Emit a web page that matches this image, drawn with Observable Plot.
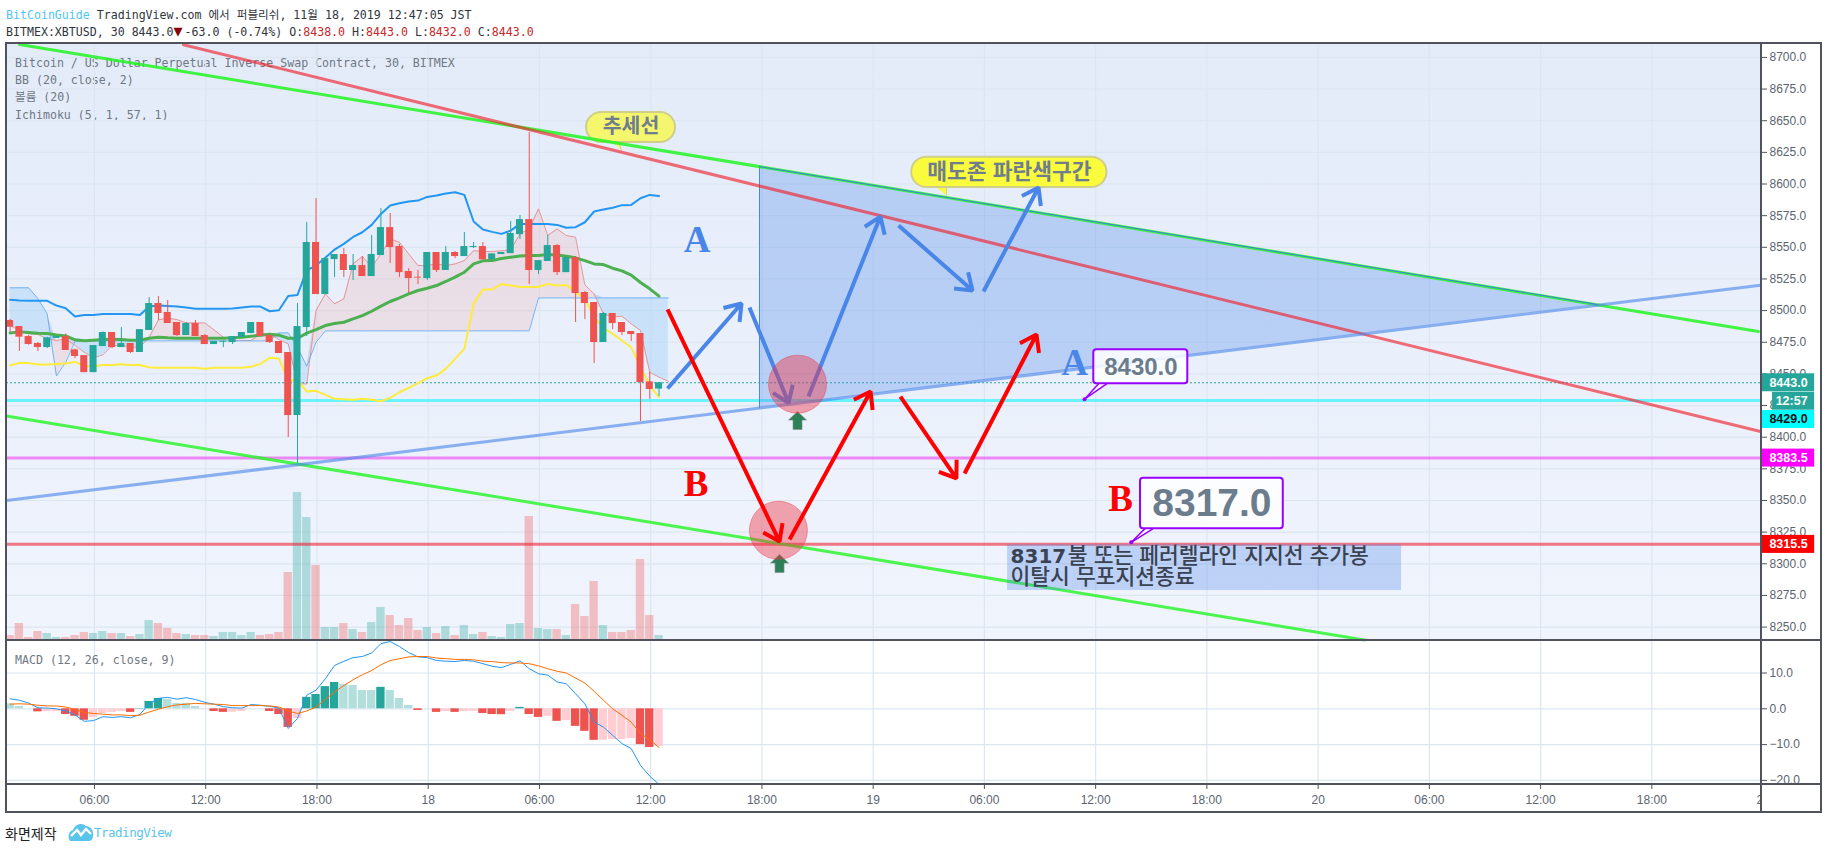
<!DOCTYPE html>
<html lang="ko">
<head>
<meta charset="utf-8">
<script src="https://cdn.jsdelivr.net/npm/d3@7"></script>
<script src="https://cdn.jsdelivr.net/npm/@observablehq/plot@0.6"></script>
<style>
  html,body{margin:0;padding:0;background:#fff;}
  #page{position:relative;width:1828px;height:849px;overflow:hidden;background:#fff;}
  .abs{position:absolute;}
  .mono{font-family:"DejaVu Sans Mono","Noto Sans CJK KR",monospace;font-size:11.6px;white-space:pre;line-height:16px;}
  .line{position:absolute;background:#50535e;}
  svg{display:block;}
</style>
</head>
<body>
<div id="page">
  <div class="abs" style="left:6px;top:43px;width:1755px;height:597px;background:linear-gradient(#e3ebf9,#f0f4fd);"></div>
  <div class="abs mono" style="left:6px;top:7px;color:#30353d;"><span style="color:#4fc3f7">BitCoinGuide</span> TradingView.com 에서 퍼블리쉬, 11월 18, 2019 12:47:05 JST</div>
  <div class="abs mono" style="left:6px;top:24px;color:#30353d;">BITMEX:XBTUSD, 30 8443.0<span style="color:#8b0000;display:inline-block;width:9px;text-align:center;font-size:15px;line-height:10px;margin:0 2px 0 0;">▼</span>-63.0 (-0.74%) O:<span style="color:#c62828">8438.0</span> H:<span style="color:#c62828">8443.0</span> L:<span style="color:#c62828">8432.0</span> C:<span style="color:#c62828">8443.0</span></div>
  <div class="abs mono" style="left:15px;top:55px;color:#6f7883;line-height:17.2px;">Bitcoin / US Dollar Perpetual Inverse Swap Contract, 30, BITMEX
BB (20, close, 2)
볼륨 (20)
Ichimoku (5, 1, 57, 1)</div>
  <div class="abs" id="main" style="left:0;top:43px;"></div>
  <div class="abs" id="macd" style="left:0;top:640px;"></div>
  <div class="abs mono" style="left:15px;top:652px;color:#6f7883;">MACD (12, 26, close, 9)</div>
  <div class="abs" style="left:1762px;top:785px;width:60px;height:27px;background:#fff;"></div>
  <div class="line" style="left:5px;top:42px;width:1817px;height:2px;"></div>
  <div class="line" style="left:5px;top:811px;width:1817px;height:2px;"></div>
  <div class="line" style="left:5px;top:42px;width:2px;height:771px;"></div>
  <div class="line" style="left:1820px;top:42px;width:2px;height:771px;"></div>
  <div class="line" style="left:1760px;top:42px;width:2px;height:771px;"></div>
  <div class="line" style="left:5px;top:639px;width:1817px;height:2px;"></div>
  <div class="line" style="left:5px;top:783px;width:1817px;height:2px;"></div>
  <div class="abs" style="left:5px;top:823px;font:14px 'Noto Sans CJK KR',sans-serif;color:#222;">화면제작</div>
  <svg class="abs" style="left:68px;top:822px;" width="26" height="20" viewBox="0 0 26 20">
    <path d="M2 19 C-1 14 1 9 5 8 C7 2 14 0 18 4 C23 4 26 9 25 14 C25 17 23 19 21 19 Z" fill="#5bc4ea"/>
    <path d="M3 14 L9 8 L13 13 L18 7 L23 12" fill="none" stroke="#fff" stroke-width="2.4"/>
  </svg>
  <div class="abs" style="left:94px;top:825px;font:12.5px 'DejaVu Sans Mono',monospace;letter-spacing:-.5px;color:#5bc4ea;">TradingView</div>
</div>
<script>
// 30-minute bars from 17 Nov 01:30 JST to 18 Nov 12:30 JST (bars sit a hair left of their grid line)
const firstBarHour = -22.55;
const barOpen = [8492.2,8487.4,8479.5,8474,8470.8,8478,8479.5,8469,8464.5,8451,8471.6,8482.7,8470.8,8474,8466.9,8484.3,8505.6,8498.5,8490.6,8480.3,8489.8,8480.3,8473.2,8475,8474.8,8478.7,8481.9,8490.6,8480.3,8475.6,8466.9,8417.1,8486.6,8553.8,8512.7,8540.3,8544.3,8531.7,8535.6,8526.9,8543.5,8565.6,8550.6,8530.9,8526.4,8525.3,8545.9,8531.7,8545.9,8542.7,8549.8,8550.6,8540.3,8544.3,8545,8560,8571.9,8531.7,8538.8,8551.4,8530,8541.9,8514.3,8506.4,8474.8,8497.7,8490.6,8483.5,8481.9,8443.7,8438];
const barClose = [8486.9,8479,8473.2,8470.8,8478.5,8479.5,8468.5,8463.7,8451,8472.4,8482.7,8470.8,8474,8466.9,8485,8505.6,8497.7,8489.8,8480.3,8489.8,8479.5,8473.2,8475.6,8475.8,8479.5,8482.7,8490.6,8479.5,8474.8,8466.1,8417.1,8487.4,8553.8,8512.7,8541.1,8544.3,8531.7,8535.6,8526.9,8544.3,8565.6,8549.8,8530,8525.3,8525.7,8545.9,8531.7,8545.9,8542.7,8550.6,8550.6,8540.1,8544.8,8545.9,8560.9,8571.9,8531.7,8539.5,8551.4,8530,8541.9,8513.5,8505.6,8474.8,8497.7,8489.8,8482.7,8481.1,8443.2,8437.7,8443];
const barHigh = [8493,8487.4,8480.3,8474.8,8479,8479.5,8481.6,8469.8,8464.5,8472.4,8483.2,8482.7,8486.6,8474,8485,8510.3,8511.1,8508,8490.6,8490.6,8492.2,8481.1,8475.6,8475.8,8479.5,8482.7,8490.6,8490.6,8481.1,8475.6,8466.9,8505.6,8569.6,8588.5,8541.1,8544.3,8549,8544.3,8542.7,8559.3,8580.6,8576.7,8552.2,8533.2,8531.7,8545.9,8545.9,8550.6,8546.7,8561.7,8553.8,8553.8,8544.8,8545.9,8570.4,8575.1,8640.7,8539.5,8559.3,8552.2,8541.9,8542.7,8515.1,8506.4,8498.5,8497.7,8490.6,8483.5,8481.9,8451.3,8443];
const barLow = [8483,8467.7,8472.7,8467.7,8470,8478,8468.5,8461.9,8451,8451,8471.6,8469.8,8470.8,8466,8466.9,8484.3,8492.2,8489.8,8479.5,8480.3,8479.5,8473.2,8473.2,8470.8,8473.2,8478.7,8481.9,8479.5,8474,8466.1,8399.7,8379,8479.5,8512.7,8512.7,8526.1,8526.1,8523.8,8526.9,8526.9,8543.5,8537.2,8526.1,8513.5,8520.6,8523.8,8530.1,8531.7,8541.1,8542.7,8549,8540.1,8540.3,8544.3,8545,8556.1,8520.6,8528.5,8538.8,8527.7,8530,8490.6,8492.9,8458.2,8474.8,8485,8480.3,8475.6,8412.4,8429.8,8432];
const barVolume = [15,51,9,27,21,9,9,15,24,21,27,21,21,12,18,60,51,36,21,18,15,15,12,24,24,15,24,15,18,24,204,444,369,225,39,39,51,33,24,54,99,75,45,66,30,39,21,42,15,45,18,24,12,9,48,51,372,36,33,33,15,108,72,177,45,24,24,30,243,75,15];
const bbUpper = [8508.5,8508,8507.7,8507.7,8507.7,8504,8501.9,8495.3,8496.6,8496.6,8497.4,8497.4,8497.4,8497.4,8496.6,8503.2,8504,8503.7,8503.2,8502.4,8501.4,8501.4,8501.4,8501.4,8501.6,8502.4,8503.2,8503.2,8499.5,8500.3,8511.6,8512.4,8531.7,8535.6,8541.7,8548.2,8552.7,8558.2,8561.9,8567.7,8576.4,8583,8584.8,8586.2,8586.9,8589.8,8590.9,8592.5,8593.5,8591.4,8570.4,8564,8562.2,8560.6,8563.2,8568.5,8568.5,8568.5,8568.5,8567.7,8565.4,8565.9,8569.8,8578.3,8579.8,8581.2,8583.3,8583.5,8588.8,8591.4,8590.6];
const bbBasis = [8482.4,8483.2,8482.7,8482.2,8481.9,8480.8,8480,8476.9,8476.1,8476.6,8477.1,8477.4,8477.1,8476.6,8476.6,8478.2,8479,8478.5,8478.2,8478.2,8478.2,8478.2,8478.2,8478.2,8478.5,8479,8479.8,8480.6,8481.4,8480.6,8478.2,8478.2,8482.2,8485,8488.2,8489.8,8490.8,8493.5,8496.1,8499.5,8503.5,8507.2,8510.1,8513.2,8515.9,8517.7,8519.8,8523,8526.4,8530.3,8536.9,8539.3,8539.5,8541.1,8542.2,8543.2,8543.5,8543.5,8544.3,8544,8543,8541.7,8539.5,8536.9,8536.4,8533.5,8531.4,8528,8522.2,8517.2,8511.4];
const bbLower = [8456.6,8458.7,8458.7,8457.4,8457.4,8457.9,8458.2,8459.5,8456.1,8456.1,8457.1,8457.1,8457.7,8457.1,8457.1,8455.3,8454.8,8454.8,8454.8,8454.8,8454.8,8454,8454.8,8454.8,8454.8,8454.8,8455.6,8457.9,8462.7,8462.1,8444.8,8444.8,8436.1,8436.6,8433.4,8430.3,8430,8429.5,8430.3,8429.5,8428.4,8431.1,8435.5,8439,8442.7,8446.6,8448.7,8454,8461.9,8469.8,8505.3,8516.6,8516.6,8521.1,8519.8,8518.7,8518.7,8518.7,8521.1,8519.8,8520.3,8514.5,8509.3,8494.8,8486.4,8481.6,8476.4,8471.1,8455.3,8440.8,8431.6];
// Ichimoku leads run one bar past the last candle
const spanA = [8488.2,8484.3,8481.6,8481.1,8477.7,8476.4,8477.7,8472.4,8467.1,8462.7,8465,8472.4,8472.4,8471.1,8471.1,8479,8492.7,8494,8492.9,8490.3,8490.3,8490.3,8484.8,8479,8476.4,8476.4,8476.4,8481.6,8481.6,8477.1,8473.7,8442.1,8442.1,8500,8513.2,8505.3,8509.3,8536.9,8542.7,8534.3,8544.8,8556.7,8554,8544.8,8535.6,8535.6,8536.9,8535.6,8536.9,8539.5,8547.4,8546.7,8546.7,8547.2,8548,8560.6,8564.6,8580.4,8559.3,8564.6,8559.3,8558,8520.3,8513.2,8497.4,8494.8,8495.6,8489.5,8484.3,8451.3,8447.4,8444.2];
const spanB = [8518,8518,8518,8509.5,8497.4,8448.4,8459.2,8475.8,8476.1,8476.1,8476.1,8476.1,8476.1,8476.1,8476.1,8476.1,8476.1,8476.1,8476.1,8476.1,8476.1,8476.1,8476.1,8476.1,8476.1,8476.1,8476.1,8476.1,8476.1,8482.4,8482.4,8471.1,8456.1,8475,8484,8484,8484,8484,8484,8484,8484,8484,8484,8484,8484,8484,8484,8484,8484,8484,8484,8484,8484,8484,8484,8484,8484,8510,8510,8510,8510,8510,8510,8510,8510,8510,8510,8510,8510,8510,8510,8510];
const macdHist = [1.4,0.65,0,-0.85,-0.8,-0.78,-1.6,-2.1,-3.2,-2.4,-1.3,-1,-0.75,-1,0.1,2.05,2.9,2.6,1.5,1.5,0.65,0,-0.75,-1,-0.95,-0.75,0,0,-0.75,-1.6,-5.2,-2.7,3.2,4,6.2,7.35,6.8,6.5,5.1,5.1,6,5.1,2.9,0.95,-0.45,0,-1,-0.75,-1,-0.75,-0.7,-1.3,-1.6,-1.65,-0.75,0.4,-1.6,-2.4,-2.1,-3.5,-3.3,-4.9,-6.3,-8.8,-8.75,-8.6,-8.55,-8.3,-10,-10.8,-10.5];
const macdLine = [2.8,2.4,1.6,0.3,0.2,0,-0.6,-1.7,-3.5,-3.3,-2.2,-2.4,-2.2,-2.5,-1.6,1.4,2.9,3.2,2.7,3.1,2.6,1.8,1.3,0.6,0.3,0.2,1.2,1,0.7,0.2,-5.5,-2.7,3.8,5.2,8.4,12.1,13.3,14.3,14.6,15.6,18.2,18.8,17.4,15.7,14.5,14.3,13.5,13.3,13.2,13.5,13.3,12.6,11.9,11.5,12.4,13.4,11.2,9.8,9.4,7.5,7,4.2,1.4,-3.7,-5.1,-7.4,-9.7,-11.1,-15.8,-18.8,-21.1];
const macdSignal = [1.3,1.4,1.3,1,0.8,0.8,0.5,-0.2,-1,-1.3,-1.5,-1.7,-1.7,-1.9,-1.8,-0.9,-0.1,0.6,1.1,1.3,1.5,1.4,1.3,1.2,0.9,0.9,0.9,0.9,0.8,0.5,-0.6,-1.3,-0.6,0.5,2.6,4.7,6.5,8.1,9.5,10.7,12.3,13.5,14,14.5,14.6,14.6,14.2,14,13.8,13.8,13.7,13.3,13.2,12.9,12.8,12.8,12.6,12,11.2,10.5,10,8.6,7.2,4.9,2.4,0,-1.8,-3.7,-6.9,-8.6,-10.8];

const hourTicks = [-18,-12,-6,0,6,12,18,24,30,36,42,48,54,60,66,72];
const hourLabels = ["06:00","12:00","18:00","18","06:00","12:00","18:00","19","06:00","12:00","18:00","20","06:00","12:00","18:00","21"];
const priceTicks = [8250,8275,8300,8325,8350,8375,8400,8425,8450,8475,8500,8525,8550,8575,8600,8625,8650,8675,8700];
const macdTicks = [10,0,-10,-20];

// Drawings: [hour, price] pairs, hours counted from 18 Nov 00:00
const greenTop = [[-22.04,8710.2],[71.75,8483.5]];
const greenLow = [[-22.75,8416.7],[50.5,8239.8]];
const redTop = [[-13.2,8710],[71.86,8404.5]];
const blueRise = [[-22.75,8350],[71.86,8520]];
const sellZone = [[17.87,8423.1,8613.8],[63.07,8504.8,8504.8]];
const blueArrows = [[12.91,8438.5,16.9,8505.6],[17.33,8502.4,19.44,8427],[20.51,8432.1,24.39,8574.3],[25.37,8567.2,29.36,8515.9],[29.95,8515.1,32.92,8597.2]];
const redArrows = [[12.91,8500.9,18.95,8317.6],[19.49,8319.2,23.86,8436.1],[25.47,8432.1,28.49,8367.4],[28.93,8371.3,32.81,8481.1]];
const zoneCircles = [[19.92,8441.9],[18.89,8326.5]];
const upMarks = [[19.92,8413.2],[18.95,8300.2]];
const levelCyan = 8429, levelMagenta = 8383.5, levelRed = 8315.5, lastClose = 8443;

const yMin = 8239.4, yMax = 8711, xMin = -22.745, xMax = 71.86, volScaleTop = 1791;
const priceOfVol = v => yMin + v * (yMax - yMin) / volScaleTop;
const bars = barOpen.map((o,i)=>({h:firstBarHour+i*0.5,o,c:barClose[i],hi:barHigh[i],lo:barLow[i],v:barVolume[i],up:barClose[i]>=o,u:bbUpper[i],b:bbBasis[i],l:bbLower[i]}));
const cloud = spanA.map((a,i)=>({h:firstBarHour+i*0.5,a,b:spanB[i]}));
const seg = a => a.map(([h,p])=>({h,p}));
const UP="#26a69a", DOWN="#ef5350", GRID="#dce6f1";
const sans="'Liberation Sans',Arial,sans-serif", kr="'Noto Sans CJK KR',sans-serif";

const arrowMark = (rows,stroke,strokeWidth)=>Plot.arrow(rows,{x1:d=>d[0],y1:d=>d[1],x2:d=>d[2],y2:d=>d[3],stroke,strokeWidth,headLength:7,headAngle:70,bend:0,strokeLinecap:"butt"});
const lineMark = (pts,stroke,strokeWidth,extra={})=>Plot.line(seg(pts),{x:"h",y:"p",stroke,strokeWidth,...extra});
const upArrow = {draw(c,size){const s=Math.sqrt(size/Math.PI);c.moveTo(0,-s);c.lineTo(s,-s*0.05);c.lineTo(s*.5,-s*0.05);c.lineTo(s*.5,s);c.lineTo(-s*.5,s);c.lineTo(-s*.5,-s*0.05);c.lineTo(-s,-s*0.05);c.closePath();}};

const bubble = (x1,x2,y1,y2,rx,fill,stroke,strokeWidth,fillOpacity=1)=>Plot.rect([{x1,x2,y1,y2}],{x1:"x1",x2:"x2",y1:"y1",y2:"y2",rx,fill,stroke,strokeWidth,fillOpacity});
const label = (h,p,text,fontSize,fontFamily,fontWeight,fill,extra={})=>Plot.text([{h,p}],{x:"h",y:"p",text:()=>text,fontSize,fontFamily,fontWeight,fill,lineAnchor:"middle",...extra});

const tagRows = [
  {p:8443,t:"8443.0",fill:"#26a69a",color:"#fff",x1:71.92},
  {p:8428.4,t:"12:57",fill:"#26a69a",color:"#fff",x1:72.51},
  {p:8414,t:"8429.0",fill:"#00ffff",color:"#111",x1:71.92},
  {p:8383.5,t:"8383.5",fill:"#ff00ff",color:"#fff",x1:71.92},
  {p:8315.3,t:"8315.5",fill:"#ff0000",color:"#fff",x1:71.92}
];

const main = Plot.plot({
  width:1828,height:597,marginLeft:6,marginRight:68,marginTop:0,marginBottom:0,
  style:{background:"transparent",overflow:"visible"},
  x:{type:"linear",domain:[xMin,xMax],axis:null},
  y:{type:"linear",domain:[yMin,yMax]},
  marks:[
    Plot.gridX({ticks:hourTicks.slice(0,-1),stroke:GRID,strokeOpacity:1,strokeWidth:1.2}),
    Plot.gridY({ticks:priceTicks,stroke:GRID,strokeOpacity:1,strokeWidth:1.2}),
    Plot.axisY({anchor:"right",ticks:priceTicks,tickFormat:d=>d.toFixed(1),tickSize:6,tickPadding:3,fontSize:12,fontFamily:sans,color:"#5b6470",stroke:"#50535e",label:null}),
    // Ichimoku cloud
    Plot.areaY(cloud,{x:"h",y1:"b",y2:d=>Math.max(d.a,d.b),fill:"#ef9a9a",fillOpacity:.2}),
    Plot.areaY(cloud,{x:"h",y1:"a",y2:d=>Math.max(d.a,d.b),fill:"#90caf9",fillOpacity:.35}),
    Plot.line(cloud,{x:"h",y:"a",stroke:"#e57373",strokeOpacity:.7,strokeWidth:1}),
    Plot.line(cloud,{x:"h",y:"b",stroke:"#64a8ee",strokeOpacity:.85,strokeWidth:1}),
    // volume
    Plot.rect(bars,{x1:d=>d.h-.225,x2:d=>d.h+.225,y1:yMin,y2:d=>priceOfVol(d.v),fill:d=>d.up?UP:DOWN,fillOpacity:.33}),
    // levels behind candles
    Plot.ruleY([levelCyan],{stroke:"#00f5ff",strokeOpacity:.55,strokeWidth:3}),
    Plot.ruleY([levelMagenta],{stroke:"#ee22ee",strokeOpacity:.5,strokeWidth:3}),
    Plot.ruleY([levelRed],{stroke:"#f01020",strokeOpacity:.55,strokeWidth:3}),
    Plot.ruleY([lastClose],{stroke:UP,strokeWidth:1,strokeDasharray:"2,2"}),
    // Bollinger
    Plot.line(bars,{x:"h",y:"u",stroke:"#2196f3",strokeWidth:2}),
    Plot.line(bars,{x:"h",y:"b",stroke:"#4caf50",strokeWidth:3}),
    Plot.line(bars,{x:"h",y:"l",stroke:"#ffeb3b",strokeWidth:2}),
    // candles
    Plot.ruleX(bars,{x:"h",y1:"lo",y2:"hi",stroke:d=>d.up?UP:DOWN,strokeWidth:1}),
    Plot.rect(bars,{x1:d=>d.h-.19,x2:d=>d.h+.19,y1:"o",y2:"c",fill:d=>d.up?UP:DOWN}),
    // yellow callouts sit under the trend lines
    Plot.line(seg([[9.89,8634],[10.26,8634],[10.43,8626.5]]),{x:"h",y:"p",fill:"#f6f86a",stroke:"#d5d56f",strokeWidth:1}),
    bubble(8.54,13.34,8632.8,8656.5,15,"#f4f66e","#cfcf8a",2),
    label(10.94,8645.4,"추세선",20.5,kr,700,"#707d8c"),
    // trend lines
    Plot.areaY(sellZone,{x:d=>d[0],y1:d=>d[1],y2:d=>d[2],fill:"#4a86e8",fillOpacity:.3}),
    lineMark([[17.87,8423.1],[17.87,8613.8]],"#4a86e8",1),
    lineMark(greenTop,"#22f522",3,{strokeOpacity:.85}),
    lineMark(greenLow,"#22f522",3,{strokeOpacity:.8}),
    lineMark(redTop,"#f0222e",3,{strokeOpacity:.65}),
    lineMark(blueRise,"#4a86e8",3,{strokeOpacity:.62}),
    lineMark([[17.87,8613.8],[63.07,8504.8]],"#3f7fdf",1),
    Plot.line(seg([[27.36,8598],[27.96,8598],[27.96,8590.9]]),{x:"h",y:"p",fill:"#f9fb3c",stroke:"#d5d56f",strokeWidth:1}),
    bubble(26.08,36.61,8597.2,8621.2,15,"#f9fb3c","#cfcf8a",2),
    label(31.35,8609.1,"매도존 파란색구간",21.5,kr,700,"#707d8c"),
    // arrows and markers
    arrowMark(blueArrows,"#4a86e8",4),
    Plot.dot(upMarks,{x:d=>d[0],y:d=>d[1],r:9,symbol:upArrow,fill:"#2e8058",stroke:"#7f8f88",strokeWidth:.6}),
    Plot.dot(zoneCircles,{x:d=>d[0],y:d=>d[1],r:29,fill:"#f03040",fillOpacity:.42,stroke:"#e8404c",strokeOpacity:.45,strokeWidth:1}),
    arrowMark(redArrows,"#ff0000",4),
    // letters
    label(14.5,8556,"A",37,"'Liberation Serif',serif",700,"#4a86e8"),
    label(14.45,8362.6,"B",37,"'Liberation Serif',serif",700,"#ff0000"),
    label(34.86,8458.2,"A",37,"'Liberation Serif',serif",700,"#4a86e8"),
    label(37.34,8350.8,"B",37,"'Liberation Serif',serif",700,"#ff0000"),
    // price callouts
    Plot.line(seg([[36.16,8442.2],[35.4,8430],[36.59,8442.2]]),{x:"h",y:"p",fill:"#fff",stroke:"#9900ff",strokeWidth:1.5}),
    bubble(35.9,40.97,8442.2,8469,3,"#fff","#9900ff",2,.85),
    label(38.44,8455.3,"8430.0",24,sans,700,"#6b7c8c"),
    Plot.dot([[35.4,8430]],{x:d=>d[0],y:d=>d[1],r:2,fill:"#9900ff"}),
    Plot.line(seg([[38.65,8327.6],[37.92,8317],[39.08,8327.6]]),{x:"h",y:"p",fill:"#fff",stroke:"#9900ff",strokeWidth:1.5}),
    bubble(38.42,46.12,8327.6,8367.6,3,"#fff","#9900ff",2,.85),
    label(42.27,8347.4,"8317.0",39,sans,700,"#6b7c8c"),
    Plot.dot([[37.92,8317]],{x:d=>d[0],y:d=>d[1],r:2,fill:"#9900ff"}),
    // note
    bubble(31.25,52.5,8278.9,8315.2,0,"#4a86e8","none",0,.3),
    label(31.41,8305.8,"8317",20,"'DejaVu Sans',sans-serif",700,"#3a4252",{textAnchor:"start"}),
    label(34.5,8305.8,"불 또는 페러렐라인 지지선 추가봉",21.5,kr,500,"#3a4252",{textAnchor:"start"}),
    label(31.41,8289.5,"이탈시 무포지션종료",21.5,kr,500,"#3a4252",{textAnchor:"start"}),
    // price-scale tags
    Plot.rect(tagRows,{x1:"x1",x2:74.78,y1:d=>d.p-7.1,y2:d=>d.p+7.1,fill:"fill"}),
    Plot.text(tagRows,{x:d=>d.t==="12:57"?73.54:73.37,y:"p",text:"t",fill:"color",fontSize:12.5,fontFamily:sans,fontWeight:700,lineAnchor:"middle"})
  ]
});
document.getElementById("main").append(main);

const hist = macdHist.map((v,i)=>({h:firstBarHour+i*.5,v,prev:i?macdHist[i-1]:v}));
const histColor = d => d.v>=0 ? (d.v>d.prev?"#26a69a":"#b2dfdb") : (d.v>d.prev?"#ffcdd2":"#ef5350");
const macdRows = macdLine.map((m,i)=>({h:firstBarHour+i*.5,m,s:macdSignal[i]}));
const macd = Plot.plot({
  width:1828,height:172,marginLeft:6,marginRight:68,marginTop:0,marginBottom:28,
  style:{background:"transparent",overflow:"visible"},
  x:{type:"linear",domain:[xMin,xMax],axis:null},
  y:{type:"linear",domain:[-21.14,19.08]},
  marks:[
    Plot.gridX({ticks:hourTicks.slice(0,-1),stroke:GRID,strokeOpacity:1,strokeWidth:1.2}),
    Plot.gridY({ticks:macdTicks,stroke:GRID,strokeOpacity:1,strokeWidth:1.2}),
    Plot.axisY({anchor:"right",ticks:macdTicks,tickFormat:d=>d===0?"0.0":(d<0?"\u2212":"")+Math.abs(d).toFixed(1),tickSize:6,tickPadding:3,fontSize:12,fontFamily:sans,color:"#5b6470",stroke:"#50535e",label:null}),
    Plot.axisX({anchor:"bottom",ticks:hourTicks,tickFormat:d=>hourLabels[hourTicks.indexOf(d)],tickSize:5,tickPadding:6,fontSize:12,fontFamily:sans,color:"#5b6470",stroke:"#50535e",label:null}),
    Plot.rect(hist,{x1:d=>d.h-.225,x2:d=>d.h+.225,y1:0,y2:"v",fill:histColor}),
    Plot.line(macdRows,{x:"h",y:"m",stroke:"#2196f3",strokeWidth:1}),
    Plot.line(macdRows,{x:"h",y:"s",stroke:"#ff6d00",strokeWidth:1})
  ]
});
document.getElementById("macd").append(macd);
</script>
</body>
</html>
